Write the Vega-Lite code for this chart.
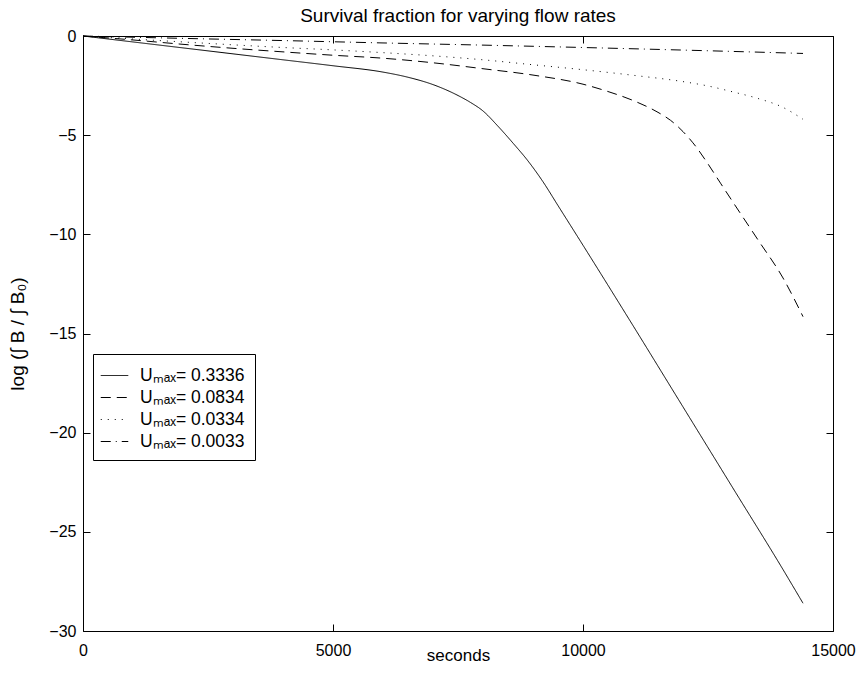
{
  "$schema": "https://vega.github.io/schema/vega-lite/v6.json",
  "width": 750,
  "height": 595,
  "autosize": "none",
  "padding": {"left": 83, "top": 36, "right": 30, "bottom": 46},
  "background": "white",
  "config": {
    "font": "Liberation Sans",
    "view": {"stroke": "black", "strokeWidth": 1},
    "axis": {"grid": false, "domain": false, "labelFont": "Liberation Sans", "labelFontSize": 16, "labelColor": "black", "tickColor": "black", "titleFont": "Liberation Sans", "titleFontSize": 17, "titleFontWeight": "normal", "titleColor": "black", "tickSize": -7, "labelFlush": false}
  },
  "title": {"text": "Survival fraction for varying flow rates", "fontSize": 19, "fontWeight": "normal", "font": "Liberation Sans", "offset": 2, "color": "black"},
  "datasets": {
    "curves": [
      {"series": "Uₘₐₓ= 0.3336", "t": 0, "v": 0},
      {"series": "Uₘₐₓ= 0.3336", "t": 1000, "v": -0.3},
      {"series": "Uₘₐₓ= 0.3336", "t": 2000, "v": -0.6},
      {"series": "Uₘₐₓ= 0.3336", "t": 3000, "v": -0.9},
      {"series": "Uₘₐₓ= 0.3336", "t": 4000, "v": -1.2},
      {"series": "Uₘₐₓ= 0.3336", "t": 5000, "v": -1.5},
      {"series": "Uₘₐₓ= 0.3336", "t": 6000, "v": -1.82},
      {"series": "Uₘₐₓ= 0.3336", "t": 6500, "v": -2.08},
      {"series": "Uₘₐₓ= 0.3336", "t": 7000, "v": -2.45},
      {"series": "Uₘₐₓ= 0.3336", "t": 7500, "v": -3.0},
      {"series": "Uₘₐₓ= 0.3336", "t": 7750, "v": -3.35},
      {"series": "Uₘₐₓ= 0.3336", "t": 8000, "v": -3.78},
      {"series": "Uₘₐₓ= 0.3336", "t": 8300, "v": -4.55},
      {"series": "Uₘₐₓ= 0.3336", "t": 8600, "v": -5.4},
      {"series": "Uₘₐₓ= 0.3336", "t": 8900, "v": -6.3},
      {"series": "Uₘₐₓ= 0.3336", "t": 9200, "v": -7.35},
      {"series": "Uₘₐₓ= 0.3336", "t": 9500, "v": -8.55},
      {"series": "Uₘₐₓ= 0.3336", "t": 10000, "v": -10.55},
      {"series": "Uₘₐₓ= 0.3336", "t": 11000, "v": -14.6},
      {"series": "Uₘₐₓ= 0.3336", "t": 12000, "v": -18.7},
      {"series": "Uₘₐₓ= 0.3336", "t": 13000, "v": -22.8},
      {"series": "Uₘₐₓ= 0.3336", "t": 14000, "v": -26.9},
      {"series": "Uₘₐₓ= 0.3336", "t": 14400, "v": -28.6},
      {"series": "Uₘₐₓ= 0.0834", "t": 0, "v": 0},
      {"series": "Uₘₐₓ= 0.0834", "t": 1000, "v": -0.2},
      {"series": "Uₘₐₓ= 0.0834", "t": 2000, "v": -0.42},
      {"series": "Uₘₐₓ= 0.0834", "t": 3000, "v": -0.62},
      {"series": "Uₘₐₓ= 0.0834", "t": 4000, "v": -0.8},
      {"series": "Uₘₐₓ= 0.0834", "t": 5000, "v": -0.97},
      {"series": "Uₘₐₓ= 0.0834", "t": 6000, "v": -1.12},
      {"series": "Uₘₐₓ= 0.0834", "t": 7000, "v": -1.35},
      {"series": "Uₘₐₓ= 0.0834", "t": 8000, "v": -1.65},
      {"series": "Uₘₐₓ= 0.0834", "t": 9000, "v": -1.97},
      {"series": "Uₘₐₓ= 0.0834", "t": 10000, "v": -2.43},
      {"series": "Uₘₐₓ= 0.0834", "t": 10500, "v": -2.8},
      {"series": "Uₘₐₓ= 0.0834", "t": 11000, "v": -3.25},
      {"series": "Uₘₐₓ= 0.0834", "t": 11500, "v": -3.85},
      {"series": "Uₘₐₓ= 0.0834", "t": 11750, "v": -4.25},
      {"series": "Uₘₐₓ= 0.0834", "t": 12000, "v": -4.82},
      {"series": "Uₘₐₓ= 0.0834", "t": 12250, "v": -5.55},
      {"series": "Uₘₐₓ= 0.0834", "t": 12500, "v": -6.45},
      {"series": "Uₘₐₓ= 0.0834", "t": 12750, "v": -7.42},
      {"series": "Uₘₐₓ= 0.0834", "t": 13000, "v": -8.38},
      {"series": "Uₘₐₓ= 0.0834", "t": 13500, "v": -10.28},
      {"series": "Uₘₐₓ= 0.0834", "t": 14000, "v": -12.2},
      {"series": "Uₘₐₓ= 0.0834", "t": 14400, "v": -14.15},
      {"series": "Uₘₐₓ= 0.0334", "t": 0, "v": 0},
      {"series": "Uₘₐₓ= 0.0334", "t": 2000, "v": -0.3},
      {"series": "Uₘₐₓ= 0.0334", "t": 4000, "v": -0.58},
      {"series": "Uₘₐₓ= 0.0334", "t": 5000, "v": -0.7},
      {"series": "Uₘₐₓ= 0.0334", "t": 6000, "v": -0.84},
      {"series": "Uₘₐₓ= 0.0334", "t": 7000, "v": -1.0},
      {"series": "Uₘₐₓ= 0.0334", "t": 8000, "v": -1.2},
      {"series": "Uₘₐₓ= 0.0334", "t": 9000, "v": -1.45},
      {"series": "Uₘₐₓ= 0.0334", "t": 10000, "v": -1.7},
      {"series": "Uₘₐₓ= 0.0334", "t": 11000, "v": -1.98},
      {"series": "Uₘₐₓ= 0.0334", "t": 12000, "v": -2.3},
      {"series": "Uₘₐₓ= 0.0334", "t": 12500, "v": -2.52},
      {"series": "Uₘₐₓ= 0.0334", "t": 13000, "v": -2.82},
      {"series": "Uₘₐₓ= 0.0334", "t": 13500, "v": -3.15},
      {"series": "Uₘₐₓ= 0.0334", "t": 14000, "v": -3.6},
      {"series": "Uₘₐₓ= 0.0334", "t": 14400, "v": -4.2},
      {"series": "Uₘₐₓ= 0.0033", "t": 0, "v": 0},
      {"series": "Uₘₐₓ= 0.0033", "t": 2000, "v": -0.12},
      {"series": "Uₘₐₓ= 0.0033", "t": 4000, "v": -0.23},
      {"series": "Uₘₐₓ= 0.0033", "t": 6000, "v": -0.35},
      {"series": "Uₘₐₓ= 0.0033", "t": 8000, "v": -0.46},
      {"series": "Uₘₐₓ= 0.0033", "t": 10000, "v": -0.58},
      {"series": "Uₘₐₓ= 0.0033", "t": 12000, "v": -0.71},
      {"series": "Uₘₐₓ= 0.0033", "t": 14000, "v": -0.85},
      {"series": "Uₘₐₓ= 0.0033", "t": 14400, "v": -0.88}
    ]
  },
  "data": {"name": "curves"},
  "layer": [
    {
      "mark": {"type": "line", "color": "black", "strokeWidth": 1, "interpolate": "monotone"},
      "encoding": {
        "x": {"field": "t", "type": "quantitative", "title": "seconds",
              "scale": {"domain": [0, 15000], "nice": false, "zero": false},
              "axis": {"orient": "bottom", "values": [0, 5000, 10000, 15000], "format": "d", "labelPadding": 18, "titlePadding": -11}},
        "y": {"field": "v", "type": "quantitative", "title": "log (∫ B / ∫ B₀)",
              "scale": {"domain": [-30, 0], "nice": false, "zero": false},
              "axis": {"orient": "left", "values": [0, -5, -10, -15, -20, -25, -30], "format": "d", "labelPadding": 14, "titlePadding": 21, "titleFontSize": 19}},
        "strokeDash": {"field": "series", "type": "nominal",
              "scale": {"domain": ["Uₘₐₓ= 0.3336", "Uₘₐₓ= 0.0834", "Uₘₐₓ= 0.0334", "Uₘₐₓ= 0.0033"],
                        "range": [[1, 0], [10, 6], [1, 6], [10, 5, 1, 5]]},
              "legend": {"orient": "none", "legendX": 10, "legendY": 318, "title": null,
                         "strokeColor": "black", "fillColor": "white", "padding": 10,
                         "symbolType": "M-1.25,0H1.25", "symbolSize": 484, "symbolStrokeWidth": 1, "symbolStrokeColor": "black", "symbolFillColor": "transparent",
                         "labelFont": "Liberation Sans", "labelFontSize": 17.5, "labelColor": "black", "labelOffset": 14,
                         "rowPadding": 2, "cornerRadius": 0}}
      }
    },
    {
      "mark": {"type": "line", "opacity": 0},
      "encoding": {
        "x": {"field": "t", "type": "quantitative",
              "axis": {"orient": "top", "values": [0, 5000, 10000, 15000], "labels": false, "title": null}},
        "y": {"field": "v", "type": "quantitative",
              "axis": {"orient": "right", "values": [0, -5, -10, -15, -20, -25, -30], "labels": false, "title": null}},
        "detail": {"field": "series"}
      }
    }
  ],
  "resolve": {"axis": {"x": "independent", "y": "independent"}}
}
